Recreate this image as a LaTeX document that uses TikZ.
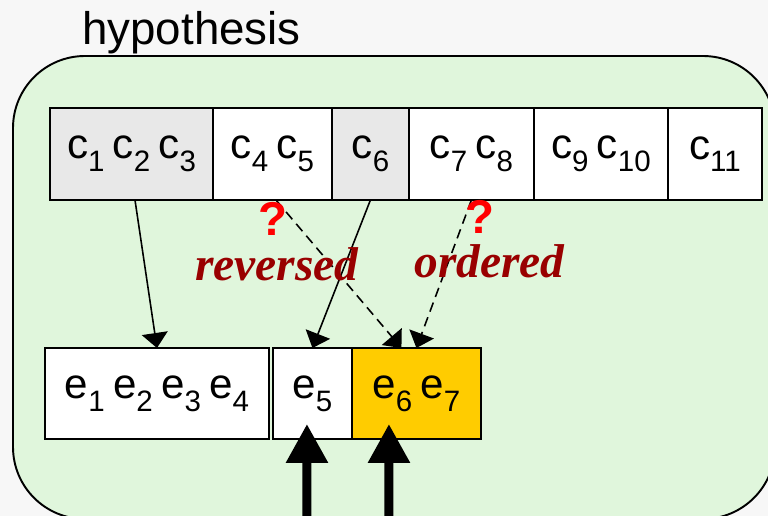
\documentclass[tikz,border=0pt]{standalone}
\usepackage{fontspec}
\setmainfont{Liberation Sans}
\newfontfamily\serifbi{Liberation Serif}
\usepackage{graphicx}
\usepackage{xcolor}
\usetikzlibrary{arrows.meta, positioning}
\definecolor{hypgreen}{RGB}{224, 246, 220}
\definecolor{pagegray}{RGB}{247, 247, 247}
\definecolor{cellgray}{RGB}{232, 232, 232}
\definecolor{spangold}{RGB}{255, 204, 0}
\definecolor{qred}{RGB}{255, 0, 0}
\definecolor{tagred}{RGB}{153, 0, 0}
\newcommand{\lo}[1]{\raisebox{-0.3em}{\scalebox{0.7}{#1}}}

\begin{document}
\begin{tikzpicture}[
  x=0.02cm, y=0.02cm,
  cell/.style = {rectangle, draw=black, line width=1.1pt, fill=white,
                 minimum height=1.84cm, inner sep=0pt, outer sep=0pt,
                 font=\fontsize{24}{28}\selectfont},
  span/.style = {cell, minimum height=1.82cm},
  link/.style = {-{Triangle[length=0.3cm, width=0.52cm]}, line width=0.9pt},
  guess/.style = {link, dash pattern=on 5.5pt off 3.4pt},
  feed/.style = {-{Triangle[length=0.78cm, width=0.8cm]}, line width=0.18cm},
  qmark/.style = {font=\fontsize{27}{30}\selectfont\bfseries, text=qred, inner sep=0pt},
  tag/.style = {font=\fontsize{27}{29}\selectfont\serifbi\bfseries\itshape, text=tagred, inner sep=0pt}
]
\useasboundingbox (0,0) rectangle (768,-516);
\fill[pagegray] (0,0) rectangle (768,-516);

% hypothesis container
\draw[fill=hypgreen, line width=1.1pt, rounded corners=1.44cm] (13,-56) rectangle (775,-519);
\node[anchor=base west, inner sep=0pt, font=\fontsize{26}{28}\selectfont] (hyp) at (82,-45) {hypothesis};

% source phrases
\node[cell, fill=cellgray, minimum width=3.26cm, anchor=north west] (c123) at (50,-108) {c\lo{1 }c\lo{2 }c\lo{3}};
\node[cell, minimum width=2.38cm, right=0pt of c123] (c45) {c\lo{4 }c\lo{5}};
\node[cell, fill=cellgray, minimum width=1.54cm, right=0pt of c45] (c6) {c\lo{6}};
\node[cell, minimum width=2.5cm, right=0pt of c6] (c78) {c\lo{7 }c\lo{8}};
\node[cell, minimum width=2.68cm, right=0pt of c78] (c910) {c\lo{9 }c\lo{10}};
\node[cell, minimum width=1.88cm, right=0pt of c910] (c11) {c\lo{11}};

% target phrases
\node[span, minimum width=4.48cm, anchor=north west] (e1234) at (45,-348) {e\lo{1 }e\lo{2 }e\lo{3 }e\lo{4}};
\node[span, minimum width=1.58cm, right=0.08cm of e1234] (e5) {e\lo{5}};
\node[span, fill=spangold, minimum width=2.58cm, right=0pt of e5] (e67) {e\lo{6 }e\lo{7}};

% alignments
\draw[link]  ([xshift=0.07cm]c123.south) -- (e1234.north);
\draw[link]  (c6.south) -- (e5.north);
\draw[guess] ([xshift=0.07cm]c45.south) -- ([xshift=-0.3cm]e67.north);
\draw[guess] (c78.south) -- (e67.north);

\node[qmark] (q1) at (273,-219) {?};
\node[qmark] (q2) at (480,-217) {?};
\node[tag, anchor=base west] (rev) at (195,-281) {reversed};
\node[tag, anchor=base west] (ord) at (414,-278) {ordered};

% incoming
\coordinate (in5) at (307,-530);
\coordinate (in67) at (389,-530);
\draw[feed] (in5) -- ([xshift=-0.11cm, yshift=0.3cm]e5.south);
\draw[feed] (in67) -- ([xshift=-0.55cm, yshift=0.3cm]e67.south);
\end{tikzpicture}
\end{document}
